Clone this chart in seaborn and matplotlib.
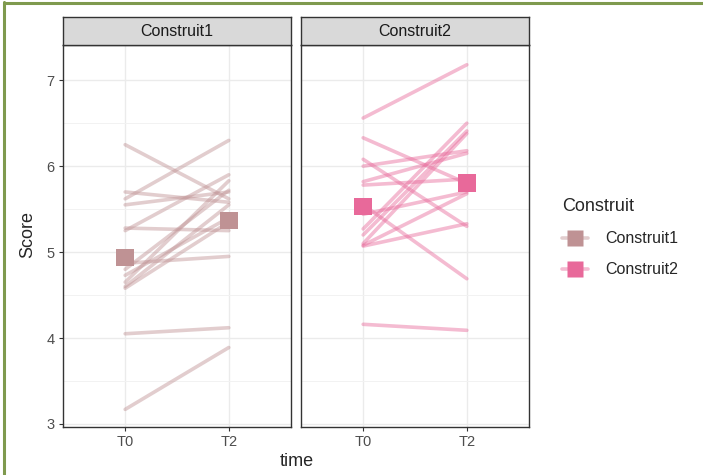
import numpy as np
import pandas as pd
import matplotlib
matplotlib.use("Agg")
import matplotlib.pyplot as plt
import seaborn as sns
from matplotlib.lines import Line2D

sns.set_style("white")
matplotlib.rcParams['font.family'] = ['Liberation Sans', 'DejaVu Sans']

# data
TIMES = ["T0", "T2"]
CONSTRUCTS = ["Construit1", "Construit2"]
c1_t0 = [6.25, 5.70, 5.62, 5.55, 5.28, 5.25, 4.87, 4.80, 4.73, 4.65, 4.60, 4.58, 4.05, 3.17]
c1_t2 = [5.62, 5.58, 6.30, 5.70, 5.25, 5.90, 4.95, 5.72, 5.40, 5.83, 5.55, 5.35, 4.12, 3.89]
c2_t0 = [6.56, 6.33, 6.08, 6.00, 5.82, 5.78, 5.55, 5.44, 5.27, 5.20, 5.10, 5.08, 5.07, 4.16]
c2_t2 = [7.18, 5.80, 5.30, 6.18, 6.15, 5.85, 4.69, 5.70, 6.50, 6.41, 6.38, 5.68, 5.33, 4.09]
PALETTE = {"Construit1": "#BF9294", "Construit2": "#E8699A"}

rows = []
for name, t0, t2 in [("Construit1", c1_t0, c1_t2), ("Construit2", c2_t0, c2_t2)]:
    for i, (a, b) in enumerate(zip(t0, t2)):
        rows.append({"Construit": name, "subject": i, "time": "T0", "Score": a})
        rows.append({"Construit": name, "subject": i, "time": "T2", "Score": b})
df = pd.DataFrame(rows)
df["x"] = df["time"].map({t: k for k, t in enumerate(TIMES)})
means = df.groupby(["Construit", "time", "x"], as_index=False)["Score"].mean()

W, H = 703, 475
fig = plt.figure(figsize=(W / 100, H / 100), dpi=100)

# olive frame on left and top
fig.add_artist(Line2D([4 / W, 4 / W], [0, 1 - 2 / H], color="#7F9A4E", lw=2.2, transform=fig.transFigure))
fig.add_artist(Line2D([4 / W, 1], [1 - 3 / H, 1 - 3 / H], color="#7F9A4E", lw=2.2, transform=fig.transFigure))

panel_left = [63, 301]
pw, top, bottom = 228, 45, 427
strip_top = 17

for k, name in enumerate(CONSTRUCTS):
    ax = fig.add_axes([panel_left[k] / W, 1 - bottom / H, pw / W, (bottom - top) / H])
    sub = df[df["Construit"] == name]
    sns.lineplot(data=sub, x="x", y="Score", units="subject", estimator=None,
                 color=PALETTE[name], alpha=0.45, lw=2.6, ax=ax, legend=False)
    m = means[means["Construit"] == name]
    sns.scatterplot(data=m, x="x", y="Score", marker="s", s=160, color=PALETTE[name],
                    edgecolor="none", ax=ax, legend=False, zorder=5)
    ax.set_xlim(-0.6, 1.6)
    ax.set_ylim(2.965, 7.41)
    ax.set_xticks([0, 1])
    ax.set_xticklabels(TIMES)
    ax.set_yticks([3, 4, 5, 6, 7])
    ax.set_yticks([3.5, 4.5, 5.5, 6.5], minor=True)
    ax.set_xlabel("")
    ax.set_ylabel("")
    ax.grid(True, which="major", color="#EBEBEB", lw=1.0)
    ax.grid(True, which="minor", axis="y", color="#F2F2F2", lw=0.7)
    ax.set_axisbelow(True)
    for s in ax.spines.values():
        s.set_color("#333333")
        s.set_linewidth(1.0)
    ax.tick_params(axis="both", which="major", length=3, width=0.8, color="#333333",
                   labelsize=10.5, labelcolor="#4D4D4D", pad=3, left=(k == 0), labelleft=(k == 0), bottom=True)
    ax.tick_params(axis="y", which="minor", length=0)

    sax = fig.add_axes([panel_left[k] / W, 1 - top / H, pw / W, (top - strip_top) / H])
    sax.set_facecolor("#D9D9D9")
    sax.set_xticks([])
    sax.set_yticks([])
    for s in sax.spines.values():
        s.set_color("#333333")
        s.set_linewidth(1.0)
    sax.text(0.5, 0.48, name, ha="center", va="center", fontsize=11.5, color="#1A1A1A",
             transform=sax.transAxes)

fig.text(28 / W, 1 - 235 / H, "Score", rotation=90, ha="center", va="center", fontsize=13)
fig.text(297 / W, 1 - 461 / H, "time", ha="center", va="center", fontsize=13)

# legend key: faded line with a solid square on top
handles = [(Line2D([0], [0], color=PALETTE[n], lw=2.6, alpha=0.45),
            Line2D([0], [0], ls="none", marker="s", markersize=11,
                   markerfacecolor=PALETTE[n], markeredgecolor="none"))
           for n in CONSTRUCTS]
leg = fig.legend(handles, CONSTRUCTS, title="Construit", loc="upper left",
                 bbox_to_anchor=(548 / W, 1 - 184 / H), frameon=False,
                 fontsize=11.5, title_fontsize=13, handlelength=1.6,
                 labelspacing=1.0, handletextpad=1.1, alignment="left")

fig.savefig("out.png", dpi=100)
